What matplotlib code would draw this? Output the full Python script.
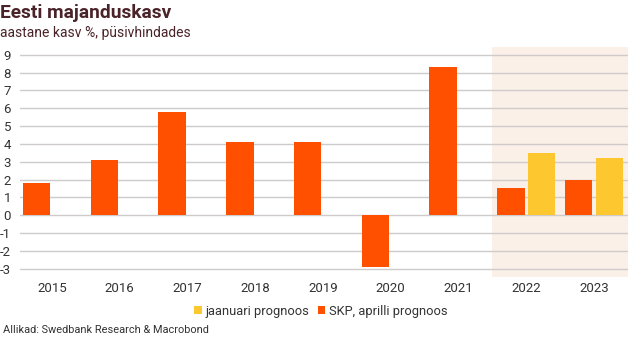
import matplotlib
matplotlib.use("Agg")
import matplotlib.pyplot as plt
import numpy as np

plt.rcParams['font.family'] = ['Roboto', 'DejaVu Sans']

years = ["2015", "2016", "2017", "2018", "2019", "2020", "2021", "2022", "2023"]
skp_april = [1.8, 3.1, 5.8, 4.1, 4.1, -2.9, 8.3, 1.5, 2.0]
january = [None, None, None, None, None, None, None, 3.5, 3.2]
y_ticks = list(range(-3, 10))

orange = "#FF5000"
yellow = "#FDC82F"
shade = "#FAF0E8"
text_dark = "#4A2328"
tick_col = "#333333"

fig = plt.figure(figsize=(6.42, 3.40), dpi=100)
ax = fig.add_axes([0.0312, 0.186, 0.9468, 0.6767])

x = np.arange(len(years))
w = 0.405
off = 0.225

# forecast period background
ax.axvspan(6.5, 8.5, color=shade, zorder=0, lw=0)

for yv in y_ticks:
    ax.axhline(yv, color="#CFCBCB", lw=1.0, zorder=1)

ax.bar(x - off, skp_april, width=w, color=orange, zorder=3,
       label="SKP, aprilli prognoos")
jx = [xi + off for xi, v in zip(x, january) if v is not None]
jv = [v for v in january if v is not None]
ax.bar(jx, jv, width=w, color=yellow, zorder=3, label="jaanuari prognoos")

ax.set_xlim(-0.47, 8.5)
ax.set_ylim(-3.46, 9.46)
ax.set_yticks(y_ticks)
ax.set_yticklabels([str(v) for v in y_ticks])
ax.set_xticks(x)
ax.set_xticklabels(years)
ax.tick_params(axis="y", length=0, pad=6.5, labelsize=9.5, labelcolor=tick_col)
ax.tick_params(axis="x", length=0, pad=3.5, labelsize=9.5, labelcolor=tick_col)
for s in ax.spines.values():
    s.set_visible(False)
ax.patch.set_alpha(0)

handles, labels = ax.get_legend_handles_labels()
leg = fig.legend(handles[::-1], labels[::-1], loc="center",
                 bbox_to_anchor=(0.5, 0.085), ncol=2, frameon=False,
                 fontsize=9.3, handlelength=0.6, handleheight=0.6,
                 handletextpad=0.3, columnspacing=0.6, labelcolor=tick_col)

fig.text(0.0, 0.962, "Eesti majanduskasv", fontsize=13.8, fontweight="bold",
         color=text_dark, va="center", ha="left")
fig.text(0.0, 0.903, "aastane kasv %, püsivhindades", fontsize=10,
         color=text_dark, va="center", ha="left")
fig.text(0.005, 0.03, "Allikad: Swedbank Research & Macrobond", fontsize=7.9,
         color=tick_col, va="center", ha="left")

fig.savefig("out.png", dpi=100)
